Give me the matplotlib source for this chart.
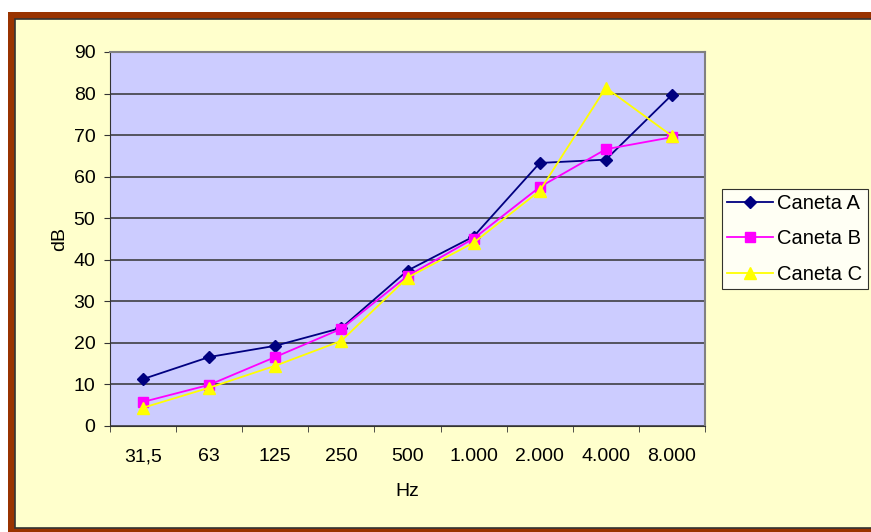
import matplotlib
matplotlib.use("Agg")
import matplotlib.pyplot as plt
from matplotlib.patches import Rectangle

plt.rcParams['font.family'] = ['Liberation Sans', 'DejaVu Sans']

freqs = ["31,5", "63", "125", "250", "500", "1.000", "2.000", "4.000", "8.000"]
caneta_a = [11.3, 16.6, 19.3, 23.6, 37.4, 45.6, 63.3, 64.1, 79.7]
caneta_b = [5.8, 9.9, 16.6, 23.4, 36.1, 45.1, 57.5, 66.6, 69.5]
caneta_c = [4.4, 9.2, 14.5, 20.5, 35.7, 44.1, 56.6, 81.4, 69.8]

W, H = 871, 532
fig = plt.figure(figsize=(W / 100, H / 100), dpi=100)
fig.patch.set_facecolor("white")

# brown frame + yellow chart area (pixel coords -> figure fraction)
def fr(x0, y0, x1, y1):
    return (x0 / W, 1 - y1 / H), (x1 - x0) / W, (y1 - y0) / H

xy, w, h = fr(8, 12, 880, 540)
fig.patches.append(Rectangle(xy, w, h, transform=fig.transFigure,
                             facecolor="#993300", edgecolor="none", zorder=0))
xy, w, h = fr(15, 19, 880, 528)
fig.patches.append(Rectangle(xy, w, h, transform=fig.transFigure,
                             facecolor="#FFFFCC", edgecolor="#333333", lw=1.2, zorder=1))

ax = fig.add_axes([110 / W, 1 - 426 / H, (705 - 110) / W, (426 - 52) / H])
ax.set_facecolor("#CCCCFF")
ax.set_zorder(2)

fs = 14
x = list(range(len(freqs)))
ax.plot(x, caneta_a, color="#000080", marker="D", ms=6.5, lw=1.3, label="Caneta A")
ax.plot(x, caneta_b, color="#FF00FF", marker="s", ms=7, lw=1.3, label="Caneta B")
ax.plot(x, caneta_c, color="#FFFF00", marker="^", ms=9, lw=1.3, label="Caneta C")

ax.set_xlim(-0.5, len(freqs) - 0.5)
ax.set_ylim(0, 90)
ax.set_yticks(range(0, 91, 10))
ax.yaxis.grid(True, color="#333333", lw=1.1)
ax.set_axisbelow(True)

ax.set_xticks(x)
ax.set_xticklabels(freqs)
ax.set_xticks([i - 0.5 for i in range(len(freqs) + 1)], minor=True)
ax.tick_params(axis="x", which="major", length=0, pad=16, labelsize=fs)
ax.tick_params(axis="x", which="minor", length=4.5, color="#333333", direction="out")
ax.tick_params(axis="y", length=4.5, color="#333333", labelsize=fs, pad=6)

for s in ["top", "right"]:
    ax.spines[s].set_color("#808080")
    ax.spines[s].set_linewidth(1.5)
ax.spines["left"].set_color("#333333")
ax.spines["bottom"].set_color("#333333")

ax.set_xlabel("Hz", fontsize=fs, labelpad=13)
ax.set_ylabel("dB", fontsize=fs, labelpad=4)

leg = ax.legend(loc="center left", bbox_to_anchor=(722 / W, 1 - 239 / H),
                bbox_transform=fig.transFigure, frameon=True, fancybox=False,
                edgecolor="black", facecolor="white", fontsize=14.5,
                handlelength=2.3, borderpad=0.25, labelspacing=0.82,
                handletextpad=0.2, borderaxespad=0)
leg.get_frame().set_linewidth(0.8)

fig.savefig("out.png", dpi=100, facecolor=fig.get_facecolor())
